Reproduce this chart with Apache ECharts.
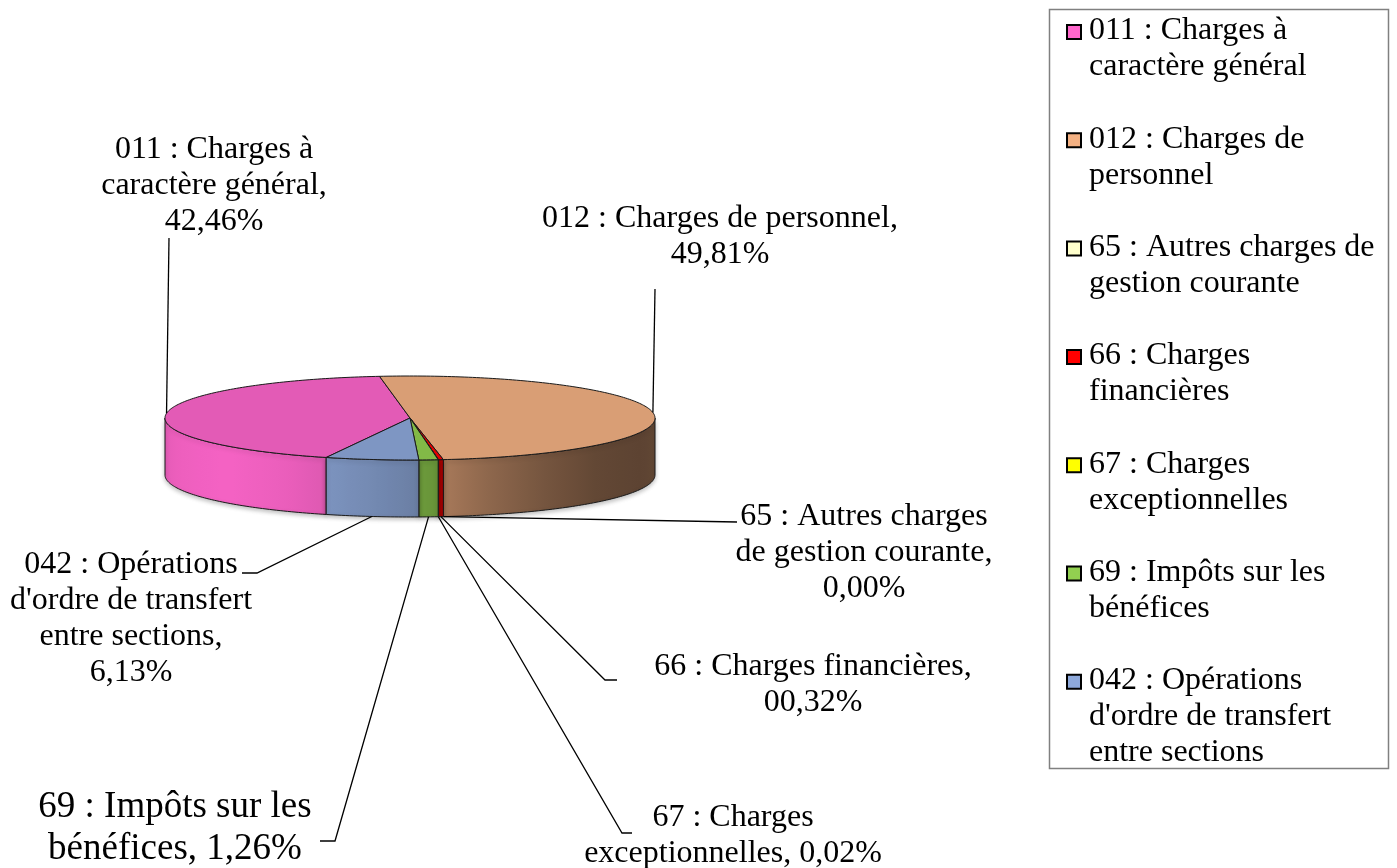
<!DOCTYPE html>
<html>
<head>
<meta charset="utf-8">
<script src="https://cdn.jsdelivr.net/npm/echarts@6/dist/echarts.min.js"></script>
<style>
  html, body { margin: 0; background: #fff; }
  #main { width: 1397px; height: 868px; }
</style>
</head>
<body>
<div id="main"></div>
<script>
// données : dépenses par chapitre (%)
const categories = [
  '011 : Charges à caractère général',
  '012 : Charges de personnel',
  '65 : Autres charges de gestion courante',
  '66 : Charges financières',
  '67 : Charges exceptionnelles',
  '69 : Impôts sur les bénéfices',
  "042 : Opérations d'ordre de transfert entre sections"
];
const shares = [42.46, 49.81, 0.00, 0.32, 0.02, 1.26, 6.13];
const shareLabels = ['42,46%', '49,81%', '0,00%', '00,32%', '0,02%', '1,26%', '6,13%'];
const colors = ['#FF66CC', '#F4B183', '#FFFFCC', '#FF0000', '#FFFF00', '#92D050', '#8EA9DB'];

// libellés coupés comme sur l'original
const labelWrap = [
  '011 : Charges à\ncaractère général',
  '012 : Charges de personnel',
  '65 : Autres charges\nde gestion courante',
  '66 : Charges financières',
  '67 : Charges\nexceptionnelles',
  '69 : Impôts sur les\nbénéfices',
  "042 : Opérations\nd'ordre de transfert\nentre sections"
];
const labelJoin = ['\n', '\n', '\n', '\n', ' ', ' ', '\n'];
const legendWrap = [
  '011 : Charges à\ncaractère général',
  '012 : Charges de\npersonnel',
  '65 : Autres charges de\ngestion courante',
  '66 : Charges\nfinancières',
  '67 : Charges\nexceptionnelles',
  '69 : Impôts sur les\nbénéfices',
  "042 : Opérations\nd'ordre de transfert\nentre sections"
];

// mise en page
const FONT = '"Liberation Serif", "Times New Roman", serif';
const PIE = { cx: 410, cy: 418, rx: 245, ry: 42, depth: 57, startDeg: 200 };
const labelLayout = [
  { x: 214, y: 132, size: 32, lh: 36, leader: [[169, 238]] },
  { x: 720, y: 201, size: 32, lh: 36, leader: [[655, 289]] },
  { x: 864, y: 499, size: 32, lh: 36, leader: [[737, 522]] },
  { x: 813, y: 649, size: 32, lh: 36, leader: [[605, 680], [617, 680]] },
  { x: 733, y: 800, size: 32, lh: 36, leader: [[622, 833], [632, 833]] },
  { x: 175, y: 786, size: 37, lh: 42, leader: [[335, 841], [320, 841]] },
  { x: 131, y: 547, size: 32, lh: 36, leader: [[257, 573], [242, 573]] }
];

const total = shares.reduce((s, v) => s + v, 0);
const starts = [];
shares.reduce((cum, v, i) => { starts[i] = PIE.startDeg + 360 * cum / total; return cum + v; }, 0);

// éclairage de la tranche selon l'angle (face avant)
const light = [[90, 0.42], [95, 0.40], [110, 0.38], [130, 0.40], [145, 0.47], [160, 0.57], [170, 0.66],
  [175, 0.72], [180, 0.76], [190, 0.82], [200, 0.87], [210, 0.92], [228, 0.96], [250, 0.93], [270, 0.88]];
function lightAt(deg) {
  let d = ((deg % 360) + 360) % 360;
  d = Math.max(90, Math.min(270, d));
  for (let k = 1; k < light.length; k++) {
    if (d <= light[k][0]) {
      const t = (d - light[k - 1][0]) / (light[k][0] - light[k - 1][0]);
      return light[k - 1][1] + t * (light[k][1] - light[k - 1][1]);
    }
  }
  return light[light.length - 1][1];
}
function shade(hex, k) {
  const n = parseInt(hex.slice(1), 16);
  const c = [(n >> 16) & 255, (n >> 8) & 255, n & 255].map(v => Math.min(255, Math.round(v * k)));
  return 'rgb(' + c.join(',') + ')';
}
function pt(deg, dy) {
  const r = deg * Math.PI / 180;
  return [PIE.cx + PIE.rx * Math.sin(r), PIE.cy - PIE.ry * Math.cos(r) + (dy || 0)];
}
function arc(a, b, dy) {
  const n = Math.max(2, Math.ceil(Math.abs(b - a)) + 1);
  const pts = [];
  for (let k = 0; k < n; k++) pts.push(pt(a + (b - a) * k / (n - 1), dy));
  return pts;
}

function renderSlice(params, api) {
  const i = params.dataIndex;
  const v = api.value(1);
  const a1 = starts[i];
  const a2 = a1 + 360 * v / total;
  const children = [];
  if (a2 > a1) {
    // tranche visible (moitié avant)
    [[90, 270], [450, 630]].forEach(([f0, f1]) => {
      const s = Math.max(a1, f0), e = Math.min(a2, f1);
      if (e <= s) return;
      const top = arc(s, e, 0);
      const bot = arc(e, s, PIE.depth);
      const xA = pt(s)[0], xB = pt(e)[0];
      const xmin = Math.min(xA, xB), xmax = Math.max(xA, xB);
      let fill;
      if (xmax - xmin < 2) {
        fill = shade(colors[i], lightAt((s + e) / 2));
      } else {
        const stops = [];
        for (let k = 0; k <= 16; k++) {
          const d = s + (e - s) * k / 16;
          stops.push({ offset: (pt(d)[0] - xmin) / (xmax - xmin), color: shade(colors[i], lightAt(d)) });
        }
        stops.sort((p, q) => p.offset - q.offset);
        fill = new echarts.graphic.LinearGradient(xmin, 0, xmax, 0, stops, true);
      }
      children.push({
        type: 'polygon',
        shape: { points: top.concat(bot) },
        style: {
          fill: fill, stroke: '#1a1a1a', lineWidth: 1,
          shadowColor: 'rgba(0,0,0,0.25)', shadowBlur: 4, shadowOffsetY: 2
        }
      });
    });
    // face supérieure
    children.push({
      type: 'polygon',
      shape: { points: [[PIE.cx, PIE.cy]].concat(arc(a1, a2, 0)) },
      style: { fill: shade(colors[i], 0.89), stroke: '#1a1a1a', lineWidth: 1 }
    });
  }
  // ligne de repère + étiquette
  const mid = (a1 + a2) / 2;
  const front = Math.cos(mid * Math.PI / 180) < 0;
  const anchor = pt(mid, front ? PIE.depth : 0);
  const lay = labelLayout[i];
  children.push({
    type: 'polyline',
    shape: { points: [anchor].concat(lay.leader) },
    style: { stroke: '#000', lineWidth: 1.3, fill: null }
  });
  children.push({
    type: 'text',
    style: {
      text: labelWrap[i] + ',' + labelJoin[i] + shareLabels[i],
      x: lay.x, y: lay.y,
      align: 'center', verticalAlign: 'top',
      font: lay.size + 'px ' + FONT,
      lineHeight: lay.lh,
      fill: '#000'
    }
  });
  return { type: 'group', children: children };
}

// légende dessinée à droite
const legendBox = { x: 1049, y: 9, w: 339, h: 759, firstY: 31, step: 108.3 };
const legendEls = [{
  type: 'rect',
  shape: { x: legendBox.x + 0.5, y: legendBox.y + 0.5, width: legendBox.w, height: legendBox.h },
  style: { fill: '#fff', stroke: '#808080', lineWidth: 1.5 },
  z: 0
}];
categories.forEach((name, i) => {
  const yc = legendBox.firstY + legendBox.step * i;
  legendEls.push({
    type: 'rect',
    shape: { x: 1067, y: yc - 6, width: 14, height: 14 },
    style: { fill: colors[i], stroke: '#000', lineWidth: 2 },
    z: 1
  });
  legendEls.push({
    type: 'text',
    x: 1089, y: yc - 18,
    style: {
      text: legendWrap[i],
      font: '32px ' + FONT,
      lineHeight: 36,
      fill: '#000',
      align: 'left', verticalAlign: 'top'
    },
    z: 1
  });
});

const chart = echarts.init(document.getElementById('main'));
chart.setOption({
  animation: false,
  backgroundColor: '#fff',
  graphic: { elements: legendEls },
  series: [{
    type: 'custom',
    name: 'Dépenses',
    coordinateSystem: 'none',
    silent: true,
    data: shares.map((v, i) => [i, v]),
    renderItem: renderSlice
  }]
});
</script>
</body>
</html>
